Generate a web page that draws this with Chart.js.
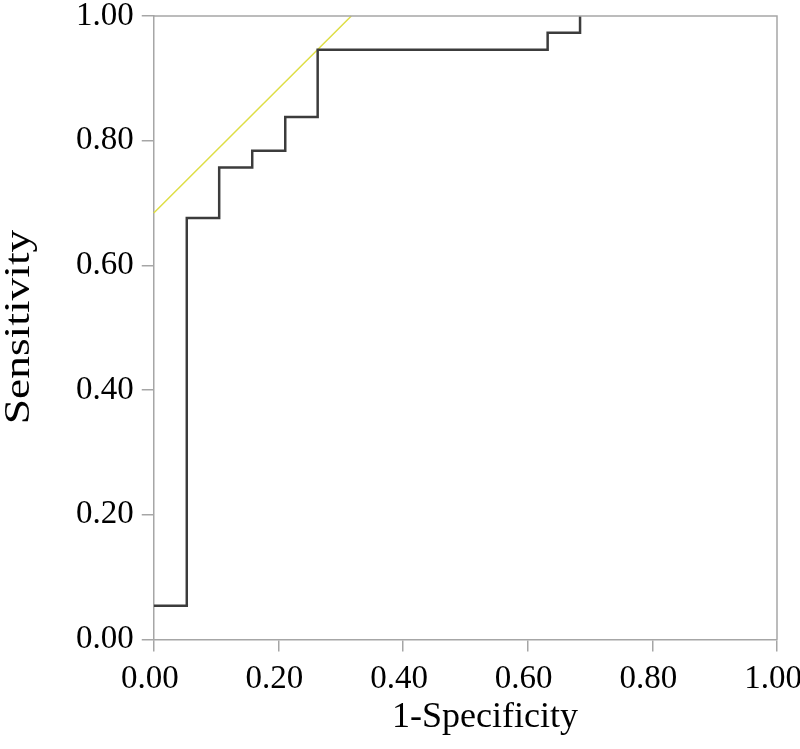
<!DOCTYPE html>
<html>
<head>
<meta charset="utf-8">
<script src="https://cdn.jsdelivr.net/npm/chart.js@4"></script>
<style>
  html, body { margin: 0; padding: 0; background: #fff; }
  #wrap { width: 800px; height: 749px; }
</style>
</head>
<body>
<div id="wrap"><canvas id="rocChart" width="800" height="749"></canvas></div>
<script>
        // ROC curve points (1-specificity, sensitivity)
        const fprValues = [0, 0.053, 0.105, 0.158, 0.211, 0.263, 0.632, 0.684];
        const tprValues = [0.054, 0.676, 0.757, 0.784, 0.838, 0.946, 0.973, 1.0];

        // tangent (Youden) reference line
        const refX = [0, 0.317];
        const refY = [0.684, 1.0];

        const xTitle = '1-Specificity';
        const yTitle = 'Sensitivity';

        const axisGray = '#a6a6a6';
        const serif = "'Liberation Serif', 'Times New Roman', serif";

        const rocPoints = fprValues.map((x, i) => ({ x: x, y: tprValues[i] }));
        const refPoints = refX.map((x, i) => ({ x: x, y: refY[i] }));

        // frame around the plot + axis titles
        const framePlugin = {
            id: 'frame',
            afterDraw(chart) {
                const { ctx, chartArea } = chart;
                ctx.save();
                ctx.strokeStyle = axisGray;
                ctx.lineWidth = 1.5;
                ctx.beginPath();
                ctx.moveTo(chartArea.left, chartArea.top);
                ctx.lineTo(chartArea.right, chartArea.top);
                ctx.lineTo(chartArea.right, chartArea.bottom);
                ctx.stroke();

                ctx.fillStyle = '#000';
                ctx.textAlign = 'center';
                ctx.textBaseline = 'alphabetic';
                ctx.font = '36px ' + serif;
                ctx.fillText(xTitle, 485, 727);

                ctx.translate(29, 327);
                ctx.rotate(-Math.PI / 2);
                ctx.scale(1.3, 1);
                ctx.font = '35px ' + serif;
                ctx.fillText(yTitle, 0, 0);
                ctx.restore();
            }
        };

        const ctx = document.getElementById('rocChart').getContext('2d');
        new Chart(ctx, {
            type: 'scatter',
            data: {
                datasets: [{
                    data: rocPoints,
                    showLine: true,
                    stepped: 'before',
                    borderColor: '#3c3c3c',
                    borderWidth: 2.5,
                    pointRadius: 0,
                    fill: false
                }, {
                    data: refPoints,
                    showLine: true,
                    borderColor: '#dede44',
                    borderWidth: 1.5,
                    pointRadius: 0,
                    fill: false,
                    clip: false
                }]
            },
            options: {
                responsive: false,
                animation: false,
                layout: { padding: { left: 68, right: 23, top: 16, bottom: 42 } },
                plugins: { legend: { display: false }, tooltip: { enabled: false } },
                scales: {
                    x: {
                        type: 'linear',
                        min: 0,
                        max: 1,
                        afterFit: s => { s.paddingLeft = 0; s.paddingRight = 0; },
                        ticks: {
                            stepSize: 0.2,
                            color: '#000',
                            padding: 8,
                            labelOffset: -4,
                            maxRotation: 0,
                            font: { family: serif, size: 33 },
                            callback: v => v.toFixed(2)
                        },
                        grid: { drawOnChartArea: false, tickLength: 12, color: axisGray, lineWidth: 1.5 },
                        border: { color: axisGray, width: 1.5 }
                    },
                    y: {
                        type: 'linear',
                        min: 0,
                        max: 1,
                        afterFit: s => { s.paddingTop = 0; s.paddingBottom = 0; },
                        ticks: {
                            stepSize: 0.2,
                            color: '#000',
                            padding: 8,
                            font: { family: serif, size: 33 },
                            callback: v => v.toFixed(2)
                        },
                        grid: { drawOnChartArea: false, tickLength: 12, color: axisGray, lineWidth: 1.5 },
                        border: { color: axisGray, width: 1.5 }
                    }
                }
            },
            plugins: [framePlugin]
        });
</script>
</body>
</html>
